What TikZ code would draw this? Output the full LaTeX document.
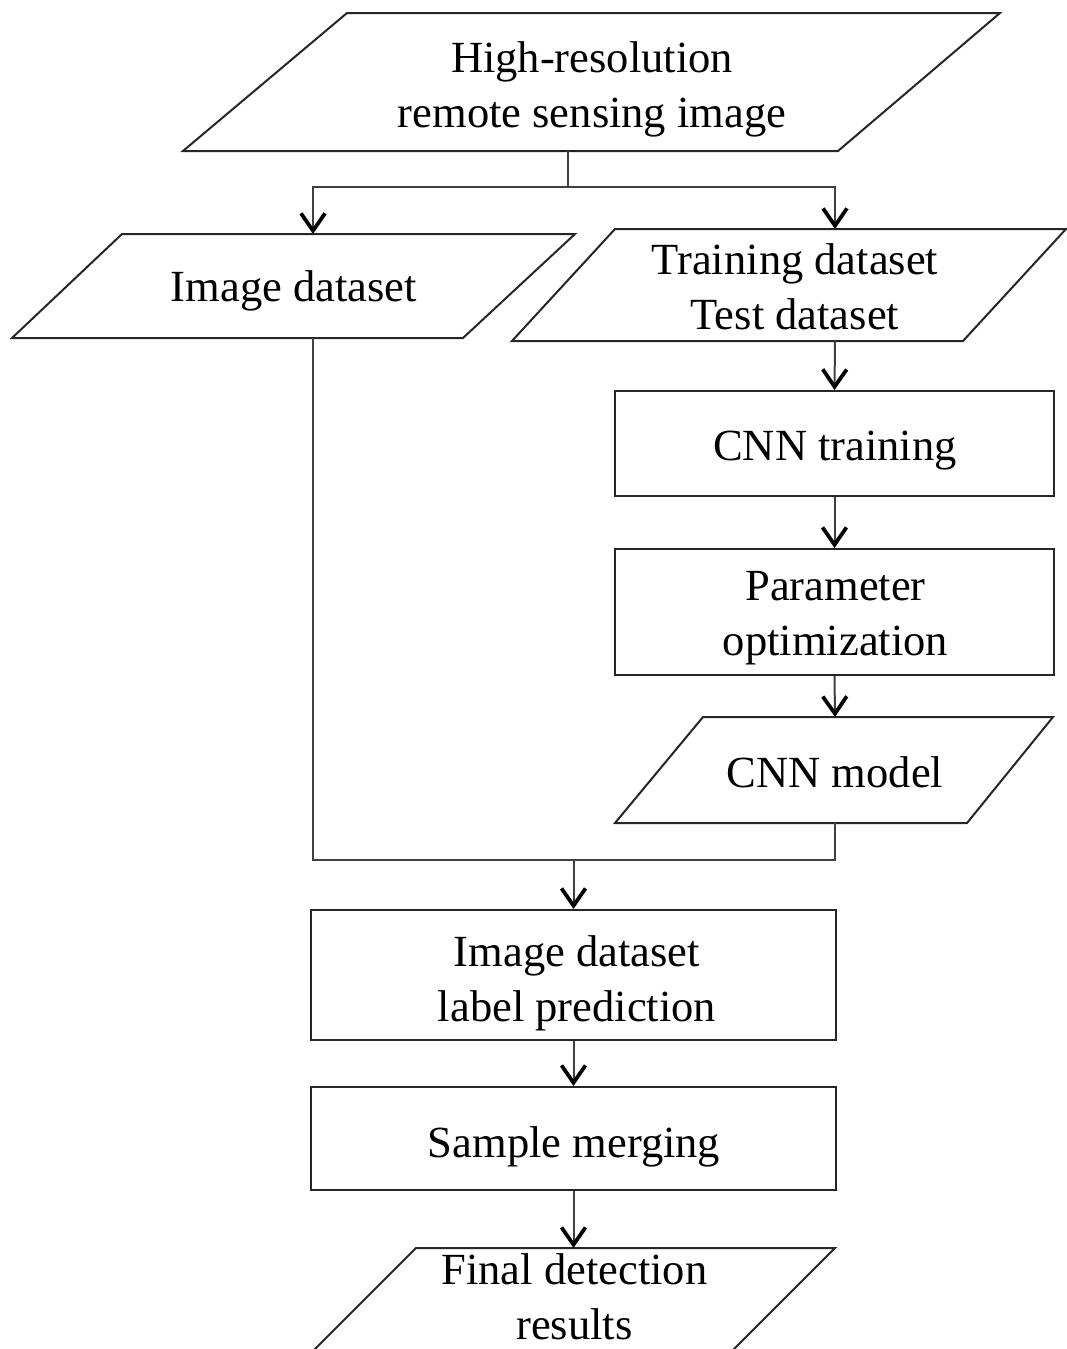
\documentclass[tikz,border=0pt]{standalone}
\usepackage{fontspec}
\setmainfont{Liberation Serif}
\usetikzlibrary{arrows.meta}
\begin{document}
\begin{tikzpicture}[x=0.75pt,y=-0.75pt,
  shapeline/.style={line width=1.5pt, draw=black!85},
  box/.style={shapeline, rectangle, inner sep=0pt},
  txt/.style={align=center, inner sep=0pt, font=\fontsize{33.4}{41.25}\selectfont},
  link/.style={line width=1.5pt, draw=black!75},
  arr/.style={link, -{Straight Barb[length=13pt,width=18pt,line width=2.8pt,color=black]}}
]
\useasboundingbox (0,0) rectangle (1067,1349);
\clip (0,0) rectangle (1067,1349);

% parallelograms
\draw[shapeline] (347,13) -- (1000,13) -- (838,151) -- (183,151) -- cycle;
\draw[shapeline] (122,234) -- (575,234) -- (463,338) -- (12,338) -- cycle;
\draw[shapeline] (615,229) -- (1066,229) -- (963,341) -- (512,341) -- cycle;
\draw[shapeline] (703,717) -- (1053,717) -- (967,823) -- (615,823) -- cycle;
\draw[shapeline] (416,1248) -- (835,1248) -- (703,1380) -- (284,1380) -- cycle;

% rectangles
\node[box, minimum width=329.25pt, minimum height=78.75pt] (r1) at (834.5,443.5) {};
\node[box, minimum width=329.25pt, minimum height=94.5pt] (r2) at (834.5,612) {};
\node[box, minimum width=393.75pt, minimum height=97.5pt] (r3) at (573.5,975) {};
\node[box, minimum width=393.75pt, minimum height=77.25pt] (r4) at (573.5,1138.5) {};

% texts
\node[txt] (t1) at (592,89.5) {High-resolution\\remote sensing image};
\node[txt] (t2) at (294,291) {Image dataset};
\node[txt] (t3) at (795,286.5) {Training dataset\\Test dataset};
\node[txt] (t4) at (835,451) {CNN training};
\node[txt] (t5) at (835.5,618.5) {Parameter\\optimization};
\node[txt] (t6) at (835,772) {CNN model};
\node[txt] (t7) at (577,983) {Image dataset\\label prediction};
\node[txt] (t8) at (574,1147) {Sample merging};
\node[txt] (t9) at (574.5,1297) {Final detection\\results};

% connector points
\coordinate (p1b) at (568,151);
\coordinate (split) at (568,187);
\coordinate (idtop) at (313,234);
\coordinate (tdtop) at (835,229);
\coordinate (tdbot) at (835,341);
\coordinate (cmtop) at (835,717);
\coordinate (cmbot) at (835,823);
\coordinate (idbot) at (313,338);
\coordinate (merge) at (573.5,860);
\coordinate (frtop) at (573.5,1248);

% connectors
\draw[link] (p1b) -- (split);
\draw[arr] (split) -| (idtop);
\draw[arr] (split) -| (tdtop);
\draw[arr] (tdbot) -- (r1.north);
\draw[arr] (r1.south) -- (r2.north);
\draw[arr] (r2.south) -- (cmtop);
\draw[link] (cmbot) |- (merge);
\draw[link] (idbot) |- (merge);
\draw[arr] (merge) -- (r3.north);
\draw[arr] (r3.south) -- (r4.north);
\draw[arr] (r4.south) -- (frtop);
\end{tikzpicture}
\end{document}
